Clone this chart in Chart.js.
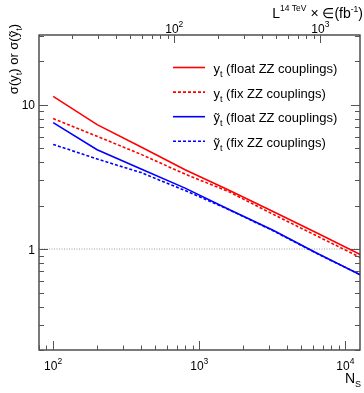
<!DOCTYPE html>
<html>
<head>
<meta charset="utf-8">
<script src="https://cdn.jsdelivr.net/npm/chart.js@4.4.1/dist/chart.umd.min.js"></script>
<style>
  html, body { margin: 0; padding: 0; background: #fff; }
  #wrap { width: 364px; height: 393px; }
</style>
</head>
<body>
<div id="wrap"><canvas id="sigmaChart" width="364" height="393"></canvas></div>
<script>
// ---- data ----
const nSignal      = [100, 200, 400, 800, 1600, 3200, 6400, 12800];
const ytFloat      = [11.4, 7.26, 5.08, 3.54, 2.55, 1.82, 1.29, 0.91];
const ytFix        = [8.0, 6.03, 4.52, 3.30, 2.49, 1.74, 1.23, 0.87];
const ytTildeFloat = [7.5, 4.87, 3.58, 2.64, 1.88, 1.35, 0.935, 0.66];
const ytTildeFix   = [5.3, 4.2, 3.38, 2.54, 1.87, 1.34, 0.93, 0.66];
const legendLabels = ['y_t (float ZZ couplings)', 'y_t (fix ZZ couplings)',
                      'ỹ_t (float ZZ couplings)', 'ỹ_t (fix ZZ couplings)'];
const refLevel = 1;

// axis ranges
const xRange = [80, 12600];
const yRange = [0.2, 30.3];
const lumiRatio = 6.745;   // N_S per fb^-1 (top axis)

const FONT = '"Liberation Sans", Arial, Helvetica, sans-serif';

function logTicks(min, max) {
    const out = [];
    for (let e = Math.floor(Math.log10(min)); e <= Math.ceil(Math.log10(max)); e++) {
        for (let d = 1; d <= 9; d++) {
            const v = d * Math.pow(10, e);
            if (v >= min * 0.999 && v <= max * 1.001) out.push({ value: v, major: d === 1 });
        }
    }
    return out;
}

function toPoints(ys) {
    return nSignal.map((n, i) => ({ x: n, y: ys[i] }));
}

// draw text made of pieces [text, size, dy]
function richWidth(ctx, parts) {
    let w = 0;
    parts.forEach(p => { ctx.font = p[1] + 'px ' + FONT; w += ctx.measureText(p[0]).width; });
    return w;
}
function drawRich(ctx, parts, x, y) {
    ctx.textAlign = 'left';
    ctx.textBaseline = 'alphabetic';
    parts.forEach(p => {
        ctx.font = p[1] + 'px ' + FONT;
        ctx.fillText(p[0], x, y + p[2]);
        x += ctx.measureText(p[0]).width;
    });
}
function powParts(v) {
    const e = Math.round(Math.log10(v));
    return [['10', 12, 0], [String(e), 8.5, -6]];
}

const rootFrame = {
    id: 'rootFrame',
    afterDraw(chart) {
        const ctx = chart.ctx;
        const a = chart.chartArea;
        const sx = chart.scales.x, sx2 = chart.scales.x2, sy = chart.scales.y;
        ctx.save();

        // frame
        ctx.strokeStyle = '#333';
        ctx.lineWidth = 1.3;
        ctx.strokeRect(a.left, a.top, a.right - a.left, a.bottom - a.top);

        // ticks (inside)
        ctx.strokeStyle = '#555';
        ctx.lineWidth = 1;
        ctx.beginPath();
        sx.ticks.forEach(t => {
            const px = Math.round(sx.getPixelForValue(t.value)) + 0.5;
            const len = t.major ? 9 : 4.5;
            ctx.moveTo(px, a.bottom); ctx.lineTo(px, a.bottom - len);
        });
        sx2.ticks.forEach(t => {
            const px = Math.round(sx2.getPixelForValue(t.value)) + 0.5;
            const len = t.major ? 8 : 4;
            ctx.moveTo(px, a.top); ctx.lineTo(px, a.top + len);
        });
        sy.ticks.forEach(t => {
            const py = Math.round(sy.getPixelForValue(t.value)) + 0.5;
            const len = t.major ? 9 : 5;
            ctx.moveTo(a.left, py); ctx.lineTo(a.left + len, py);
            ctx.moveTo(a.right, py); ctx.lineTo(a.right - len, py);
        });
        ctx.stroke();

        // tick labels
        ctx.fillStyle = '#000';
        sx.ticks.filter(t => t.major).forEach(t => {
            const parts = powParts(t.value);
            const w = richWidth(ctx, parts);
            drawRich(ctx, parts, sx.getPixelForValue(t.value) - w / 2, 369.5);
        });
        sx2.ticks.filter(t => t.major).forEach(t => {
            const parts = powParts(t.value);
            const w = richWidth(ctx, parts);
            drawRich(ctx, parts, sx2.getPixelForValue(t.value) - w / 2, 33);
        });
        sy.ticks.filter(t => t.major).forEach(t => {
            const e = Math.round(Math.log10(t.value));
            const txt = e === 0 ? '1' : (e === 1 ? '10' : String(t.value));
            ctx.font = '12px ' + FONT;
            ctx.textAlign = 'right';
            ctx.textBaseline = 'alphabetic';
            ctx.fillText(txt, a.left - 4, sy.getPixelForValue(t.value) + 4.5);
        });

        // axis titles
        const xTitle = [['N', 14, 0], ['S', 9, 4]];
        drawRich(ctx, xTitle, 361 - richWidth(ctx, xTitle), 383);

        const topTitle = [['L', 14, 0], ['14 TeV', 8.5, -7], [' × ∈(fb', 14, 0], ['-1', 8.5, -6], [')', 14, 0]];
        drawRich(ctx, topTitle, 363 - richWidth(ctx, topTitle), 18);

        const yTitle = [['σ(y', 13, 0], ['t', 9, 3.5], [') or σ(ỹ', 13, 0], ['t', 9, 3.5], [')', 13, 0]];
        const yw = richWidth(ctx, yTitle);
        ctx.save();
        ctx.translate(18, 24 + yw);
        ctx.rotate(-Math.PI / 2);
        drawRich(ctx, yTitle, 0, 0);
        ctx.restore();

        // legend
        chart.data.datasets.slice(0, legendLabels.length).forEach((ds, i) => {
            const ly = 67.5 + i * 24.6;
            ctx.strokeStyle = ds.borderColor;
            ctx.lineWidth = ds.borderWidth;
            ctx.setLineDash(ds.borderDash || []);
            ctx.beginPath();
            ctx.moveTo(173, ly); ctx.lineTo(205, ly);
            ctx.stroke();
            ctx.setLineDash([]);
            const bits = ds.label.split('_t');
            ctx.fillStyle = '#000';
            drawRich(ctx, [[bits[0], 13, 0], ['t', 9, 4], [bits[1], 13, 0]], 213.5, ly + 5.5);
        });

        ctx.restore();
    }
};

const datasets = [
    { label: legendLabels[0], data: toPoints(ytFloat), borderColor: '#ff0000', borderWidth: 1.6 },
    { label: legendLabels[1], data: toPoints(ytFix), borderColor: '#ff0000', borderWidth: 1.6, borderDash: [3, 2] },
    { label: legendLabels[2], data: toPoints(ytTildeFloat), borderColor: '#0000ff', borderWidth: 1.6 },
    { label: legendLabels[3], data: toPoints(ytTildeFix), borderColor: '#0000ff', borderWidth: 1.6, borderDash: [3, 2] },
    { label: 'ref', data: [{ x: xRange[0], y: refLevel }, { x: xRange[1], y: refLevel }],
      borderColor: '#9a9a9a', borderWidth: 1, borderDash: [1, 1.5] }
].map(d => Object.assign({ showLine: true, pointRadius: 0, fill: false, tension: 0 }, d));

new Chart(document.getElementById('sigmaChart'), {
    type: 'scatter',
    data: { datasets: datasets },
    options: {
        responsive: false,
        animation: false,
        devicePixelRatio: 1,
        layout: { padding: { left: 0, right: 4, top: 0, bottom: 0 } },
        plugins: { legend: { display: false }, tooltip: { enabled: false } },
        scales: {
            x: {
                type: 'logarithmic', position: 'bottom', min: xRange[0], max: xRange[1],
                ticks: { display: false }, grid: { display: false }, border: { display: false },
                afterBuildTicks: s => { s.ticks = logTicks(s.min, s.max); },
                afterFit: s => { s.height = 43; }
            },
            x2: {
                type: 'logarithmic', position: 'top',
                min: xRange[0] / lumiRatio, max: xRange[1] / lumiRatio,
                ticks: { display: false }, grid: { display: false }, border: { display: false },
                afterBuildTicks: s => { s.ticks = logTicks(s.min, s.max); },
                afterFit: s => { s.height = 35; }
            },
            y: {
                type: 'logarithmic', position: 'left', min: yRange[0], max: yRange[1],
                ticks: { display: false }, grid: { display: false }, border: { display: false },
                afterBuildTicks: s => { s.ticks = logTicks(s.min, s.max); },
                afterFit: s => { s.width = 39; }
            }
        }
    },
    plugins: [rootFrame]
});
</script>
</body>
</html>
